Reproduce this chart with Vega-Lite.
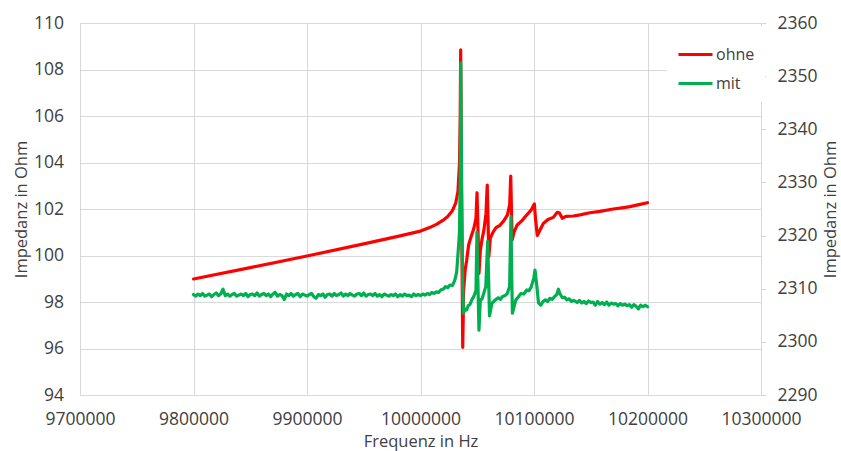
{
  "$schema": "https://vega.github.io/schema/vega-lite/v6.json",
  "width": 681,
  "height": 372,
  "autosize": {"type": "none"},
  "padding": {"left": 80, "top": 23, "right": 80, "bottom": 56},
  "background": "white",
  "config": {
    "view": {"stroke": null},
    "font": "Open Sans",
    "axis": {
      "gridColor": "#D9D9D9",
      "gridWidth": 1,
      "domainColor": "#D9D9D9",
      "domainWidth": 1,
      "tickColor": "#D9D9D9",
      "labelColor": "#404040",
      "titleColor": "#404040",
      "labelFontSize": 17.5,
      "titleFontSize": 16.5,
      "titleFontWeight": "normal",
      "labelFlush": false,
      "labelOverlap": false
    }
  },
  "datasets": {
    "ohne": [
      {"f": 9800000, "z": 98.99}, {"f": 9850000, "z": 99.48}, {"f": 9900000, "z": 99.98},
      {"f": 9950000, "z": 100.5}, {"f": 9980000, "z": 100.82}, {"f": 10000000, "z": 101.05},
      {"f": 10008000, "z": 101.2}, {"f": 10014000, "z": 101.34}, {"f": 10020000, "z": 101.52},
      {"f": 10024000, "z": 101.68}, {"f": 10028000, "z": 101.92}, {"f": 10031000, "z": 102.25},
      {"f": 10033000, "z": 102.75}, {"f": 10034400, "z": 104.0}, {"f": 10035000, "z": 106.0},
      {"f": 10035400, "z": 108.85}, {"f": 10036100, "z": 103.0}, {"f": 10037200, "z": 96.05},
      {"f": 10038000, "z": 98.5}, {"f": 10039400, "z": 99.4}, {"f": 10040700, "z": 99.8},
      {"f": 10042400, "z": 100.45}, {"f": 10044500, "z": 100.8}, {"f": 10046900, "z": 101.15},
      {"f": 10048900, "z": 101.6}, {"f": 10049800, "z": 102.7}, {"f": 10050700, "z": 101.0},
      {"f": 10051500, "z": 99.23}, {"f": 10052700, "z": 100.2}, {"f": 10054200, "z": 100.7},
      {"f": 10055900, "z": 101.1}, {"f": 10057700, "z": 101.8}, {"f": 10058800, "z": 103.03},
      {"f": 10059600, "z": 101.3}, {"f": 10060200, "z": 99.95}, {"f": 10061500, "z": 100.75},
      {"f": 10063900, "z": 101.0}, {"f": 10066500, "z": 101.2}, {"f": 10070000, "z": 101.3},
      {"f": 10073500, "z": 101.5}, {"f": 10076600, "z": 101.75}, {"f": 10078600, "z": 102.2},
      {"f": 10079500, "z": 103.42}, {"f": 10080200, "z": 101.8}, {"f": 10080800, "z": 100.67},
      {"f": 10082400, "z": 101.0}, {"f": 10085000, "z": 101.3}, {"f": 10089400, "z": 101.5},
      {"f": 10093600, "z": 101.74}, {"f": 10097400, "z": 101.95}, {"f": 10100300, "z": 102.22},
      {"f": 10101300, "z": 101.6}, {"f": 10102900, "z": 100.86}, {"f": 10105300, "z": 101.1},
      {"f": 10108200, "z": 101.38}, {"f": 10112300, "z": 101.55}, {"f": 10117000, "z": 101.64},
      {"f": 10120500, "z": 101.86}, {"f": 10122300, "z": 101.84}, {"f": 10124900, "z": 101.6},
      {"f": 10128200, "z": 101.68}, {"f": 10134600, "z": 101.7}, {"f": 10140500, "z": 101.75},
      {"f": 10149300, "z": 101.84}, {"f": 10158100, "z": 101.9}, {"f": 10169900, "z": 102.0},
      {"f": 10177500, "z": 102.05}, {"f": 10184600, "z": 102.1}, {"f": 10193400, "z": 102.2},
      {"f": 10200000, "z": 102.27}
    ],
    "mit": [
      {"f": 9800000, "z": 2308.9}, {"f": 9802000, "z": 2308.6}, {"f": 9804000, "z": 2309.0},
      {"f": 9806000, "z": 2308.7}, {"f": 9808000, "z": 2309.1}, {"f": 9810000, "z": 2308.6},
      {"f": 9812000, "z": 2308.8}, {"f": 9814000, "z": 2309.0}, {"f": 9816000, "z": 2308.5},
      {"f": 9818000, "z": 2308.9}, {"f": 9820000, "z": 2309.2}, {"f": 9822000, "z": 2308.7},
      {"f": 9824000, "z": 2309.0}, {"f": 9826000, "z": 2309.9}, {"f": 9828000, "z": 2308.7},
      {"f": 9830000, "z": 2309.0}, {"f": 9832000, "z": 2308.6}, {"f": 9834000, "z": 2308.9},
      {"f": 9836000, "z": 2309.1}, {"f": 9838000, "z": 2308.6}, {"f": 9840000, "z": 2308.8},
      {"f": 9842000, "z": 2309.0}, {"f": 9844000, "z": 2308.7}, {"f": 9846000, "z": 2309.1},
      {"f": 9848000, "z": 2308.5}, {"f": 9850000, "z": 2308.9}, {"f": 9852000, "z": 2309.0},
      {"f": 9854000, "z": 2308.7}, {"f": 9856000, "z": 2309.2}, {"f": 9858000, "z": 2308.6},
      {"f": 9860000, "z": 2308.9}, {"f": 9862000, "z": 2309.1}, {"f": 9864000, "z": 2308.7},
      {"f": 9866000, "z": 2309.0}, {"f": 9868000, "z": 2308.5}, {"f": 9870000, "z": 2309.0},
      {"f": 9872000, "z": 2309.3}, {"f": 9874000, "z": 2308.6}, {"f": 9876000, "z": 2308.9},
      {"f": 9878000, "z": 2308.7}, {"f": 9880000, "z": 2308.0}, {"f": 9882000, "z": 2309.0},
      {"f": 9884000, "z": 2308.7}, {"f": 9886000, "z": 2309.1}, {"f": 9888000, "z": 2308.6},
      {"f": 9890000, "z": 2308.9}, {"f": 9892000, "z": 2309.1}, {"f": 9894000, "z": 2308.5},
      {"f": 9896000, "z": 2309.0}, {"f": 9898000, "z": 2308.8}, {"f": 9900000, "z": 2308.6},
      {"f": 9902000, "z": 2308.9}, {"f": 9904000, "z": 2309.1}, {"f": 9906000, "z": 2308.5},
      {"f": 9908000, "z": 2308.2}, {"f": 9910000, "z": 2308.9}, {"f": 9912000, "z": 2308.7},
      {"f": 9914000, "z": 2309.0}, {"f": 9916000, "z": 2308.4}, {"f": 9918000, "z": 2308.9},
      {"f": 9920000, "z": 2309.0}, {"f": 9922000, "z": 2308.6}, {"f": 9924000, "z": 2309.1},
      {"f": 9926000, "z": 2308.7}, {"f": 9928000, "z": 2308.9}, {"f": 9930000, "z": 2309.2},
      {"f": 9932000, "z": 2308.6}, {"f": 9934000, "z": 2309.0}, {"f": 9936000, "z": 2308.7},
      {"f": 9938000, "z": 2309.1}, {"f": 9940000, "z": 2308.8}, {"f": 9942000, "z": 2308.6},
      {"f": 9944000, "z": 2309.0}, {"f": 9946000, "z": 2309.1}, {"f": 9948000, "z": 2308.7},
      {"f": 9950000, "z": 2309.2}, {"f": 9952000, "z": 2308.6}, {"f": 9954000, "z": 2308.9},
      {"f": 9956000, "z": 2309.0}, {"f": 9958000, "z": 2308.7}, {"f": 9960000, "z": 2309.1},
      {"f": 9962000, "z": 2308.6}, {"f": 9964000, "z": 2308.9}, {"f": 9966000, "z": 2308.5},
      {"f": 9968000, "z": 2309.0}, {"f": 9970000, "z": 2308.8}, {"f": 9972000, "z": 2308.6},
      {"f": 9974000, "z": 2308.9}, {"f": 9976000, "z": 2308.7}, {"f": 9978000, "z": 2309.0},
      {"f": 9980000, "z": 2308.5}, {"f": 9982000, "z": 2308.9}, {"f": 9984000, "z": 2308.6},
      {"f": 9986000, "z": 2309.0}, {"f": 9988000, "z": 2308.7}, {"f": 9990000, "z": 2308.8},
      {"f": 9992000, "z": 2308.5}, {"f": 9994000, "z": 2309.0}, {"f": 9996000, "z": 2308.7},
      {"f": 9998000, "z": 2308.9}, {"f": 10000000, "z": 2308.7}, {"f": 10002000, "z": 2309.0},
      {"f": 10004000, "z": 2308.8}, {"f": 10006000, "z": 2309.1}, {"f": 10008000, "z": 2308.9},
      {"f": 10010000, "z": 2309.3}, {"f": 10012000, "z": 2309.1}, {"f": 10014000, "z": 2309.4},
      {"f": 10016000, "z": 2309.3}, {"f": 10018000, "z": 2309.8}, {"f": 10020000, "z": 2309.9},
      {"f": 10022000, "z": 2310.4}, {"f": 10024000, "z": 2310.2}, {"f": 10026000, "z": 2310.7},
      {"f": 10028000, "z": 2310.6}, {"f": 10029500, "z": 2311.2}, {"f": 10030500, "z": 2311.8},
      {"f": 10031900, "z": 2313.2}, {"f": 10033300, "z": 2317.3}, {"f": 10034300, "z": 2320.5},
      {"f": 10035000, "z": 2330.0}, {"f": 10035500, "z": 2352.5}, {"f": 10036200, "z": 2330.0},
      {"f": 10037200, "z": 2310.0}, {"f": 10037900, "z": 2305.4}, {"f": 10039300, "z": 2306.2},
      {"f": 10040700, "z": 2306.0}, {"f": 10042000, "z": 2306.8}, {"f": 10043500, "z": 2307.0},
      {"f": 10045200, "z": 2307.9}, {"f": 10046900, "z": 2308.5}, {"f": 10048900, "z": 2309.7},
      {"f": 10049700, "z": 2320.6}, {"f": 10050500, "z": 2312.0}, {"f": 10051500, "z": 2302.2},
      {"f": 10052700, "z": 2307.9}, {"f": 10054000, "z": 2308.0}, {"f": 10055000, "z": 2308.6},
      {"f": 10057500, "z": 2310.4}, {"f": 10059200, "z": 2318.9}, {"f": 10060000, "z": 2312.0},
      {"f": 10060800, "z": 2304.9}, {"f": 10063000, "z": 2307.3}, {"f": 10064500, "z": 2307.6},
      {"f": 10066000, "z": 2307.9}, {"f": 10068500, "z": 2308.3}, {"f": 10070500, "z": 2308.0},
      {"f": 10072000, "z": 2308.5}, {"f": 10074500, "z": 2308.7}, {"f": 10076500, "z": 2309.1},
      {"f": 10078500, "z": 2310.4}, {"f": 10079700, "z": 2323.55}, {"f": 10080400, "z": 2312.0},
      {"f": 10081000, "z": 2305.4}, {"f": 10084000, "z": 2307.9}, {"f": 10086000, "z": 2308.4},
      {"f": 10088500, "z": 2309.1}, {"f": 10091000, "z": 2309.0}, {"f": 10093600, "z": 2309.76},
      {"f": 10095500, "z": 2309.6}, {"f": 10097500, "z": 2310.3}, {"f": 10099800, "z": 2312.0},
      {"f": 10100900, "z": 2313.5}, {"f": 10102500, "z": 2310.5}, {"f": 10104000, "z": 2307.3},
      {"f": 10106000, "z": 2306.9}, {"f": 10108000, "z": 2307.6}, {"f": 10110000, "z": 2307.9},
      {"f": 10112000, "z": 2307.6}, {"f": 10114000, "z": 2308.2}, {"f": 10116000, "z": 2308.0},
      {"f": 10118000, "z": 2308.5}, {"f": 10120000, "z": 2308.9}, {"f": 10121500, "z": 2309.9},
      {"f": 10123000, "z": 2309.0}, {"f": 10125000, "z": 2308.3}, {"f": 10127000, "z": 2308.4},
      {"f": 10129000, "z": 2307.9}, {"f": 10131000, "z": 2308.1}, {"f": 10133000, "z": 2307.6},
      {"f": 10135000, "z": 2307.8}, {"f": 10136000, "z": 2307.7}, {"f": 10138000, "z": 2307.4},
      {"f": 10140000, "z": 2307.8}, {"f": 10142000, "z": 2307.3}, {"f": 10144000, "z": 2307.6},
      {"f": 10146000, "z": 2307.2}, {"f": 10148000, "z": 2307.7}, {"f": 10150000, "z": 2307.4},
      {"f": 10152000, "z": 2307.5}, {"f": 10154000, "z": 2306.9}, {"f": 10156000, "z": 2307.6},
      {"f": 10158000, "z": 2307.1}, {"f": 10160000, "z": 2307.4}, {"f": 10162000, "z": 2307.0},
      {"f": 10164000, "z": 2307.5}, {"f": 10166000, "z": 2306.9}, {"f": 10168000, "z": 2307.3},
      {"f": 10170000, "z": 2307.1}, {"f": 10172000, "z": 2307.2}, {"f": 10174000, "z": 2306.8},
      {"f": 10176000, "z": 2307.2}, {"f": 10178000, "z": 2306.9}, {"f": 10180000, "z": 2307.1},
      {"f": 10182000, "z": 2306.8}, {"f": 10184000, "z": 2307.0}, {"f": 10186000, "z": 2306.5},
      {"f": 10188000, "z": 2307.0}, {"f": 10190000, "z": 2306.7}, {"f": 10192000, "z": 2306.2},
      {"f": 10194000, "z": 2306.9}, {"f": 10196000, "z": 2306.6}, {"f": 10198000, "z": 2306.9},
      {"f": 10200000, "z": 2306.6}
    ]
  },
  "layer": [
    {
      "data": {"name": "ohne"},
      "mark": {"type": "line", "strokeWidth": 3.2, "strokeJoin": "round", "strokeCap": "round"},
      "encoding": {
        "x": {
          "field": "f", "type": "quantitative",
          "scale": {"domain": [9700000, 10300000], "nice": false, "zero": false},
          "axis": {
            "values": [9700000, 9800000, 9900000, 10000000, 10100000, 10200000, 10300000],
            "format": "d", "grid": true, "ticks": false, "tickSize": 0, "labelPadding": 15,
            "title": "Frequenz in Hz", "titleY": 51, "titleBaseline": "alphabetic"
          }
        },
        "y": {
          "field": "z", "type": "quantitative",
          "scale": {"domain": [94, 110], "nice": false, "zero": false},
          "axis": {
            "orient": "left",
            "values": [94, 96, 98, 100, 102, 104, 106, 108, 110],
            "grid": true, "ticks": false, "tickSize": 0, "labelPadding": 16.5,
            "title": "Impedanz in Ohm", "titleAngle": -90, "titleX": -53.5, "titleY": 186,
            "titleBaseline": "alphabetic", "titleAlign": "center"
          }
        },
        "color": {
          "datum": "ohne", "type": "nominal",
          "scale": {"domain": ["ohne", "mit"], "range": ["#FF0000", "#00B050"]},
          "legend": {
            "title": null, "orient": "none", "legendX": 587, "legendY": 3,
            "fillColor": "white", "padding": 10,
            "symbolType": "stroke", "symbolSize": 1156, "symbolStrokeWidth": 3,
            "labelFontSize": 16, "labelColor": "#404040", "labelOffset": 2, "rowPadding": 2
          }
        }
      }
    },
    {
      "data": {"name": "mit"},
      "mark": {"type": "line", "strokeWidth": 3.2, "strokeJoin": "round", "strokeCap": "round"},
      "encoding": {
        "x": {"field": "f", "type": "quantitative"},
        "y": {
          "field": "z", "type": "quantitative",
          "scale": {"domain": [2290, 2360], "nice": false, "zero": false},
          "axis": {
            "orient": "right",
            "values": [2290, 2300, 2310, 2320, 2330, 2340, 2350, 2360],
            "format": "d",
            "grid": false, "ticks": true, "tickSize": 5, "labelPadding": 11,
            "title": "Impedanz in Ohm", "titleAngle": -90, "titleX": 74.5, "titleY": 186,
            "titleBaseline": "alphabetic", "titleAlign": "center"
          }
        },
        "color": {"datum": "mit", "type": "nominal"}
      }
    }
  ],
  "resolve": {"scale": {"y": "independent"}}
}
